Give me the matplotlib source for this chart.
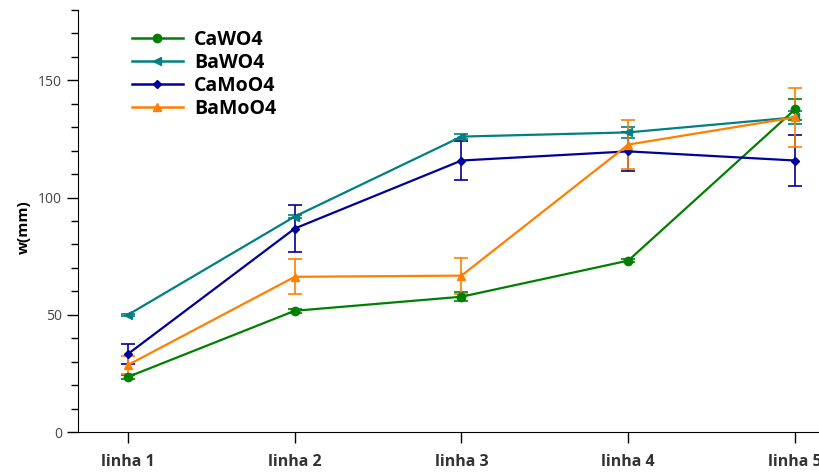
import matplotlib
matplotlib.use("Agg")
import matplotlib.pyplot as plt
from matplotlib.ticker import MultipleLocator
from matplotlib.lines import Line2D

categories = ["linha 1", "linha 2", "linha 3", "linha 4", "linha 5"]
series_names = ["CaWO4", "BaWO4", "CaMoO4", "BaMoO4"]
cawo4 = [23.5, 51.7, 57.7, 73.1, 137.6]
cawo4_err = [0.8, 0.8, 2.0, 0.8, 4.5]
bawo4 = [50.0, 91.9, 126.0, 127.8, 134.2]
bawo4_err = [0.5, 0.8, 1.0, 2.3, 2.8]
camoo4 = [33.3, 86.8, 115.8, 119.7, 115.8]
camoo4_err = [4.3, 10.0, 8.5, 8.2, 10.8]
bamoo4 = [28.6, 66.2, 66.7, 122.6, 134.2]
bamoo4_err = [3.8, 7.4, 7.7, 10.5, 12.7]

colors = ["#008000", "#008080", "#00009c", "#ff8000"]
markers = ["o", "<", "D", "^"]
msizes = [6, 6, 4, 6]

fig = plt.figure(figsize=(8.2, 4.73), dpi=100)
ax = fig.add_axes([78/820, 1-432/473, 767/820, 422/473])

x = list(range(len(categories)))
data = [(cawo4, cawo4_err), (bawo4, bawo4_err), (camoo4, camoo4_err), (bamoo4, bamoo4_err)]
handles = []
for (vals, errs), name, c, m, ms in zip(data, series_names, colors, markers, msizes):
    ax.errorbar(x, vals, yerr=errs, color=c, marker=m, markersize=ms, lw=1.6,
                capsize=5, elinewidth=1.2, capthick=1.2, ecolor=c)
    handles.append(Line2D([], [], color=c, marker=m, markersize=ms, lw=1.8, label=name))

ax.set_xlim(-0.3, 4.3)
ax.set_ylim(0, 180)
ax.set_xticks(x)
ax.set_xticklabels(categories, fontsize=11.5, fontweight="bold", family="Open Sans",
                   color="#333333")
ax.yaxis.set_major_locator(MultipleLocator(50))
ax.yaxis.set_minor_locator(MultipleLocator(10))
for lab in ax.get_yticklabels():
    lab.set_family("Open Sans")
ax.tick_params(axis="y", which="major", length=8, labelsize=10, labelcolor="#444444", width=1)
ax.tick_params(axis="y", which="minor", length=5, width=1)
ax.tick_params(axis="x", length=8, width=1, pad=8)
ax.spines["top"].set_visible(False)
ax.spines["right"].set_visible(False)
ax.set_ylabel("w(mm)", fontsize=11, fontweight="bold", family="Open Sans", labelpad=8)
ax.yaxis.set_label_coords(-0.062, 0.485)

leg = ax.legend(handles=handles, loc="upper left", bbox_to_anchor=(0.0704, 0.9525),
                frameon=False, prop={"family": "Open Sans", "weight": "bold", "size": 14},
                handlelength=2.6, handletextpad=0.6, labelspacing=0.15,
                borderpad=0, borderaxespad=0)

fig.savefig("out.png", dpi=100)
